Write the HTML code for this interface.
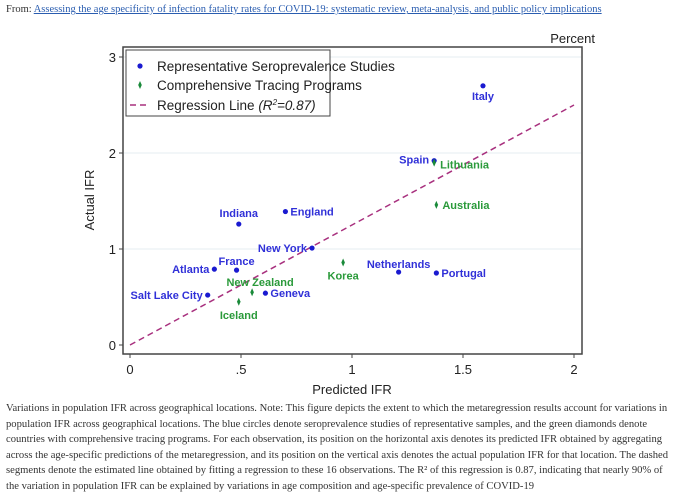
<!DOCTYPE html>
<html><head><meta charset="utf-8"><style>
body{margin:0;background:#fff;width:680px;height:492px;overflow:hidden;font-family:"Liberation Serif",serif}
#src{position:absolute;left:6px;top:4px;font-size:10.5px;color:#333}
#src a{color:#2a5db0;text-decoration:underline}
#cap{position:absolute;left:6px;top:401px;width:670px;font-size:10.6px;line-height:15.6px;color:#333}
svg{position:absolute;left:0;top:0}
svg text{font-family:"Liberation Sans",sans-serif}
</style></head><body>
<div id="src">From: <a>Assessing the age specificity of infection fatality rates for COVID-19: systematic review, meta-analysis, and public policy implications</a></div>
<svg id="chart" width="680" height="400"></svg>
<div id="cap">Variations in population IFR across geographical locations. Note: This figure depicts the extent to which the metaregression results account for variations in population IFR across geographical locations. The blue circles denote seroprevalence studies of representative samples, and the green diamonds denote countries with comprehensive tracing programs. For each observation, its position on the horizontal axis denotes its predicted IFR obtained by aggregating across the age-specific predictions of the metaregression, and its position on the vertical axis denotes the actual population IFR for that location. The dashed segments denote the estimated line obtained by fitting a regression to these 16 observations. The R² of this regression is 0.87, indicating that nearly 90% of the variation in population IFR can be explained by variations in age composition and age-specific prevalence of COVID-19</div>
<script>
const names=["Italy","Spain","Lithuania","Australia","Indiana","England","New York","Korea","Netherlands","Portugal","Atlanta","France","New Zealand","Geneva","Salt Lake City","Iceland"];
const predicted=[1.59,1.37,1.37,1.38,0.49,0.70,0.82,0.96,1.21,1.38,0.38,0.48,0.55,0.61,0.35,0.49];
const actual=[2.70,1.92,1.90,1.46,1.26,1.39,1.01,0.86,0.76,0.75,0.79,0.78,0.55,0.54,0.52,0.45];
const groups=["s","s","t","t","s","s","s","t","s","s","s","s","t","s","s","t"];
const xTicks=[0,0.5,1,1.5,2];
const xTickLabels=["0",".5","1","1.5","2"];
const yTicks=[0,1,2,3];
const regression=[[0,0],[2,2.5]];
const NS="http://www.w3.org/2000/svg";
const svg=document.getElementById('chart');
const X=v=>130+v*222, Y=v=>345-v*96;
function el(t,a,txt){const e=document.createElementNS(NS,t);for(const k in a)e.setAttribute(k,a[k]);if(txt!=null)e.textContent=txt;svg.appendChild(e);return e;}
let e;
yTicks.forEach(v=>{if(v>0){e=el('line',{x1:124,x2:581,y1:Y(v),y2:Y(v),stroke:'#e4eef2','stroke-width':1});

}});
e=el('rect',{x:123,y:47,width:459,height:307,fill:'none',stroke:'#444','stroke-width':1.5});


yTicks.forEach(v=>{el('line',{x1:119,x2:123,y1:Y(v),y2:Y(v),stroke:'#444'});
e=el('text',{x:116,y:Y(v)+5,'text-anchor':'end','font-size':13,fill:'#222'},String(v));

});
xTicks.forEach((v,i)=>{el('line',{x1:X(v),x2:X(v),y1:354,y2:358,stroke:'#444'});
e=el('text',{x:X(v),y:374,'text-anchor':'middle','font-size':13,fill:'#222'},xTickLabels[i]);

});
e=el('text',{x:352,y:394,'text-anchor':'middle','font-size':13,fill:'#222'},'Predicted IFR');


e=el('text',{x:94,y:200,'text-anchor':'middle','font-size':13,fill:'#222',transform:'rotate(-90 94 200)'},'Actual IFR');


e=el('text',{x:595,y:43,'text-anchor':'end','font-size':13,fill:'#222'},'Percent');


e=el('line',{x1:X(regression[0][0]),y1:Y(regression[0][1]),x2:X(regression[1][0]),y2:Y(regression[1][1]),stroke:'#a8307e','stroke-width':1.5,'stroke-dasharray':'6,4'});


const lab={"Italy":[0,14,'middle'],"Spain":[-5,3,'end'],"Lithuania":[6,6,'start'],"Australia":[6,4,'start'],"Indiana":[0,-7,'middle'],"England":[5,4,'start'],"New York":[-5,4,'end'],"Korea":[0,17,'middle'],"Netherlands":[0,-4,'middle'],"Portugal":[5,4,'start'],"Atlanta":[-5,4,'end'],"France":[0,-5,'middle'],"New Zealand":[8,-6,'middle'],"Geneva":[5,4,'start'],"Salt Lake City":[-5,4,'end'],"Iceland":[0,17,'middle']};
names.forEach((n,i)=>{const x=X(predicted[i]),y=Y(actual[i]);const g=groups[i]=='s';
if(g){e=el('circle',{cx:x,cy:y,r:2.6,fill:'#1a1ad0'});}
else{e=el('path',{d:`M${x} ${y-4}L${x+1.8} ${y}L${x} ${y+4}L${x-1.8} ${y}Z`,fill:'#1a8a3a'});}


const l=lab[n];
e=el('text',{x:x+l[0],y:y+l[1],'text-anchor':l[2],'font-size':11,'font-weight':'bold',fill:g?'#3030d8':'#2a9a3a'},n);

});
e=el('rect',{x:126,y:50,width:204,height:66,fill:'#fff',stroke:'#444','stroke-width':1});


el('circle',{cx:140,cy:66,r:2.6,fill:'#1a1ad0'});
e=el('text',{x:157,y:71,'font-size':13.5,fill:'#222'},'Representative Seroprevalence Studies');


el('path',{d:'M140 81L141.8 85L140 89L138.2 85Z',fill:'#1a8a3a'});
e=el('text',{x:157,y:90,'font-size':13.5,fill:'#222'},'Comprehensive Tracing Programs');


el('line',{x1:130,x2:150,y1:105,y2:105,stroke:'#a8307e','stroke-width':1.5,'stroke-dasharray':'6,4'});
e=el('text',{x:157,y:110,'font-size':13.5,fill:'#222'});
e.innerHTML='Regression Line <tspan font-style="italic">(R<tspan dy="-5" font-size="8">2</tspan><tspan dy="5">=0.87)</tspan></tspan>';


</script>
</body></html>
